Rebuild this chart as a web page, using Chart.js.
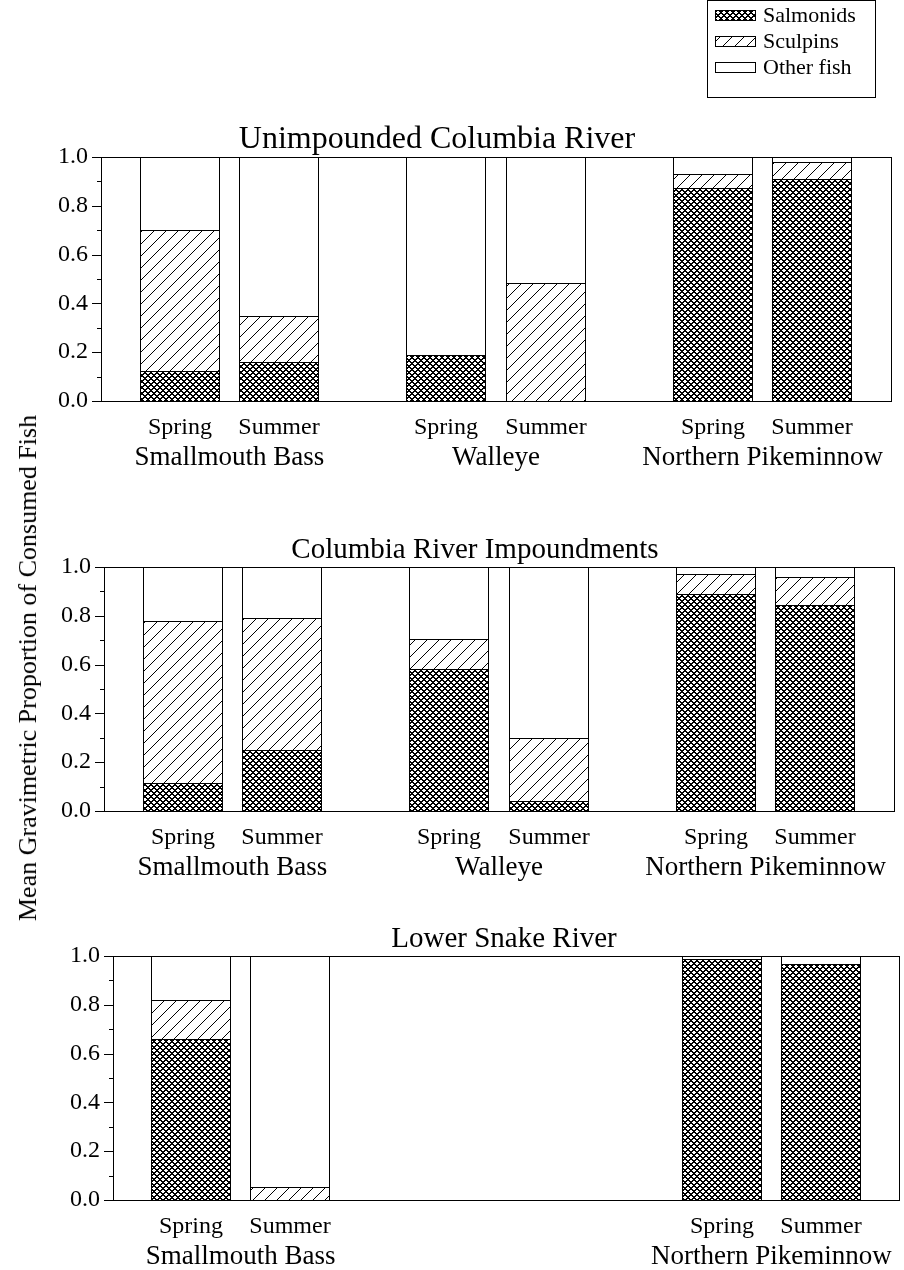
<!DOCTYPE html>
<html>
<head>
<meta charset="utf-8">
<script src="https://cdn.jsdelivr.net/npm/chart.js@4.4.0/dist/chart.umd.min.js"></script>
<style>
  html, body { margin: 0; padding: 0; background: #fff; }
  body { width: 904px; height: 1270px; position: relative; overflow: hidden; }
  canvas { position: absolute; left: 0; }
  #ytitle {
    position: absolute; left: 28px; top: 668px;
    transform: translate(-50%, -50%) rotate(-90deg);
    font-family: "Liberation Serif", "Times New Roman", serif;
    font-size: 26px; line-height: 1; white-space: nowrap; color: #000;
  }
</style>
</head>
<body>
<canvas id="panel1" width="904" height="490" style="top:0px"></canvas>
<canvas id="panel2" width="904" height="410" style="top:490px"></canvas>
<canvas id="panel3" width="904" height="370" style="top:900px"></canvas>
<div id="ytitle">Mean Gravimetric Proportion of Consumed Fish</div>
<script>
const FONT = '"Liberation Serif", "Times New Roman", serif';

// Categories and labels
const species = ['Smallmouth Bass', 'Walleye', 'Northern Pikeminnow'];
const seasons = ['Spring', 'Summer'];
const preyTypes = ['Salmonids', 'Sculpins', 'Other fish'];
const panelTitles = ['Unimpounded Columbia River', 'Columbia River Impoundments', 'Lower Snake River'];
const yTickValues = [0, 0.2, 0.4, 0.6, 0.8, 1.0];

// Unimpounded Columbia River (order: Smallmouth Bass, Walleye, Northern Pikeminnow)
const unimpSalmonidsSpring = [0.125, 0.19, 0.873];
const unimpSculpinsSpring  = [0.575, 0.0, 0.058];
const unimpOtherSpring     = [0.30, 0.81, 0.069];
const unimpSalmonidsSummer = [0.16, 0.0, 0.91];
const unimpSculpinsSummer  = [0.19, 0.485, 0.07];
const unimpOtherSummer     = [0.65, 0.515, 0.02];

// Columbia River impoundments
const impSalmonidsSpring = [0.114, 0.58, 0.888];
const impSculpinsSpring  = [0.666, 0.125, 0.085];
const impOtherSpring     = [0.22, 0.295, 0.027];
const impSalmonidsSummer = [0.249, 0.04, 0.843];
const impSculpinsSummer  = [0.54, 0.26, 0.117];
const impOtherSummer     = [0.211, 0.70, 0.04];

// Lower Snake River (no walleye sampled)
const snakeSalmonidsSpring = [0.66, null, 0.987];
const snakeSculpinsSpring  = [0.16, null, 0.0];
const snakeOtherSpring     = [0.18, null, 0.013];
const snakeSalmonidsSummer = [0.0, null, 0.967];
const snakeSculpinsSummer  = [0.055, null, 0.0];
const snakeOtherSummer     = [0.945, null, 0.033];

// Pixel-exact fill patterns: isInk(x, y) decides which tile pixels are black
function makePattern(size, isInk) {
  const tile = document.createElement('canvas');
  tile.width = size; tile.height = size;
  const g = tile.getContext('2d');
  const img = g.createImageData(size, size);
  for (let y = 0; y < size; y++) {
    for (let x = 0; x < size; x++) {
      const i = (y * size + x) * 4;
      const c = isInk(x, y) ? 0 : 255;
      img.data[i] = c; img.data[i + 1] = c; img.data[i + 2] = c; img.data[i + 3] = 255;
    }
  }
  g.putImageData(img, 0, 0);
  return g.createPattern(tile, 'repeat');
}
const crossHatch = makePattern(6, (x, y) => ((x - y + 6) % 6) < 2 || ((x + y) % 6) < 2);
const diagHatch = makePattern(12, (x, y) => (x + y) % 12 === 0);
const preyFills = [crossHatch, diagHatch, '#ffffff'];

function buildDatasets(bySeason) {
  const out = [];
  seasons.forEach(season => {
    preyTypes.forEach((prey, k) => {
      out.push({
        label: prey,
        stack: season,
        data: bySeason[season][k],
        backgroundColor: preyFills[k],
        borderColor: '#000',
        borderWidth: { top: 1, left: 1, right: 1, bottom: 0 },
        borderSkipped: false,
        inflateAmount: 0
      });
    });
  });
  return out;
}

// Snap bar rectangles to whole pixels so outlines stay crisp
const snapBarsPlugin = {
  id: 'snapBars',
  beforeDatasetsDraw(chart) {
    chart.data.datasets.forEach((d, i) => {
      chart.getDatasetMeta(i).data.forEach(el => {
        el.width = Math.round(el.width / 2) * 2;
        el.x = Math.round(el.x);
        el.y = Math.round(el.y);
        el.base = Math.round(el.base);
      });
    });
  }
};

// Box around the plot (inset from the category band) with major and minor y ticks
const framePlugin = {
  id: 'frame',
  afterDraw(chart, args, opts) {
    const { ctx, chartArea: a } = chart;
    const ys = chart.scales.y;
    const left = Math.round(a.left + opts.inset);
    const right = Math.round(a.right - opts.inset);
    const top = Math.round(a.top), bottom = Math.round(a.bottom);
    ctx.save();
    ctx.strokeStyle = '#000';
    ctx.lineWidth = 1;
    ctx.strokeRect(left + 0.5, top + 0.5, right - left, bottom - top);
    ctx.beginPath();
    yTickValues.forEach((v, i) => {
      const py = Math.round(ys.getPixelForValue(v)) + 0.5;
      ctx.moveTo(left - 9, py); ctx.lineTo(left, py);
      if (i < yTickValues.length - 1) {
        const pm = Math.round(ys.getPixelForValue((v + yTickValues[i + 1]) / 2)) + 0.5;
        ctx.moveTo(left - 4, pm); ctx.lineTo(left, pm);
      }
    });
    ctx.stroke();
    ctx.restore();
  }
};

// Panel title
const titlePlugin = {
  id: 'panelTitle',
  afterDraw(chart, args, opts) {
    const { ctx, chartArea: a } = chart;
    ctx.save();
    ctx.fillStyle = '#000';
    ctx.font = opts.size + 'px ' + FONT;
    ctx.textAlign = 'center';
    ctx.textBaseline = 'alphabetic';
    ctx.fillText(opts.text, opts.x, a.top - opts.gap);
    ctx.restore();
  }
};

// Season labels under each bar and species labels under each pair
const groupLabelPlugin = {
  id: 'groupLabels',
  afterDraw(chart, args, opts) {
    const { ctx, chartArea: a } = chart;
    const xs = chart.scales.x;
    const dsets = chart.data.datasets;
    ctx.save();
    ctx.fillStyle = '#000';
    ctx.textAlign = 'center';
    ctx.textBaseline = 'alphabetic';
    chart.data.labels.forEach((name, j) => {
      const present = dsets.some(d => d.data[j] !== null && d.data[j] !== undefined);
      if (!present) return;
      ctx.font = opts.seasonSize + 'px ' + FONT;
      seasons.forEach(season => {
        const idx = dsets.findIndex(d => d.stack === season);
        const bar = chart.getDatasetMeta(idx).data[j];
        ctx.fillText(season, bar.x, a.bottom + opts.seasonGap);
      });
      ctx.font = opts.speciesSize + 'px ' + FONT;
      ctx.fillText(name, xs.getPixelForValue(j), a.bottom + opts.speciesGap);
    });
    ctx.restore();
  }
};

// Boxed legend with one entry per prey type
const boxLegendPlugin = {
  id: 'boxLegend',
  afterDraw(chart, args, opts) {
    if (!opts.show) return;
    const ctx = chart.ctx;
    const seen = [];
    chart.data.datasets.forEach(d => { if (!seen.find(s => s.label === d.label)) seen.push(d); });
    ctx.save();
    ctx.strokeStyle = '#000';
    ctx.lineWidth = 1;
    ctx.strokeRect(opts.x + 0.5, opts.y + 0.5, opts.w, opts.h);
    ctx.font = opts.size + 'px ' + FONT;
    ctx.textBaseline = 'middle';
    ctx.textAlign = 'left';
    seen.forEach((d, i) => {
      const cy = opts.firstRow + i * opts.rowStep;
      const sx = opts.x + opts.swatchLeft;
      const sy = Math.round(cy - opts.swatchH / 2);
      ctx.fillStyle = d.backgroundColor;
      ctx.fillRect(sx, sy, opts.swatchW, opts.swatchH);
      ctx.strokeRect(sx + 0.5, sy + 0.5, opts.swatchW, opts.swatchH);
      ctx.fillStyle = '#000';
      ctx.fillText(d.label, opts.x + opts.textLeft, cy + 1);
    });
    ctx.restore();
  }
};

function makePanel(canvasId, title, bySeason, box) {
  return new Chart(document.getElementById(canvasId), {
    type: 'bar',
    data: { labels: species, datasets: buildDatasets(bySeason) },
    options: {
      responsive: false,
      animation: false,
      devicePixelRatio: 1,
      categoryPercentage: 0.746,
      barPercentage: 0.804,
      layout: { padding: { left: 0, right: box.right, top: box.top, bottom: box.bottom } },
      scales: {
        x: { stacked: true, display: false },
        y: {
          stacked: true, min: 0, max: 1,
          afterBuildTicks: s => { s.ticks = yTickValues.map(v => ({ value: v })); },
          afterFit: s => { s.width = box.left; },
          ticks: {
            color: '#000', padding: 8,
            font: { family: FONT, size: 24 },
            callback: v => Number(v).toFixed(1)
          },
          grid: { drawOnChartArea: false, drawTicks: false },
          border: { display: false }
        }
      },
      plugins: {
        legend: { display: false },
        tooltip: { enabled: false },
        frame: { inset: 5 },
        panelTitle: { text: title, x: box.titleX, gap: box.titleGap, size: box.titleSize },
        groupLabels: { seasonSize: 24, seasonGap: 33, speciesSize: 27, speciesGap: 64 },
        boxLegend: {
          show: !!box.legend, x: 707, y: 0, w: 168, h: 97, size: 22,
          firstRow: 15, rowStep: 26, swatchLeft: 8, swatchW: 40, swatchH: 10, textLeft: 56
        }
      }
    },
    plugins: [snapBarsPlugin, framePlugin, titlePlugin, groupLabelPlugin, boxLegendPlugin]
  });
}

makePanel('panel1', panelTitles[0], {
  Spring: [unimpSalmonidsSpring, unimpSculpinsSpring, unimpOtherSpring],
  Summer: [unimpSalmonidsSummer, unimpSculpinsSummer, unimpOtherSummer]
}, { left: 96, right: 8, top: 157, bottom: 89, titleX: 437, titleSize: 32, titleGap: 9, legend: true });

makePanel('panel2', panelTitles[1], {
  Spring: [impSalmonidsSpring, impSculpinsSpring, impOtherSpring],
  Summer: [impSalmonidsSummer, impSculpinsSummer, impOtherSummer]
}, { left: 99, right: 5, top: 77, bottom: 89, titleX: 475, titleSize: 29, titleGap: 9 });

makePanel('panel3', panelTitles[2], {
  Spring: [snakeSalmonidsSpring, snakeSculpinsSpring, snakeOtherSpring],
  Summer: [snakeSalmonidsSummer, snakeSculpinsSummer, snakeOtherSummer]
}, { left: 108, right: -3, top: 56, bottom: 70, titleX: 504, titleSize: 29, titleGap: 9 });
</script>
</body>
</html>
